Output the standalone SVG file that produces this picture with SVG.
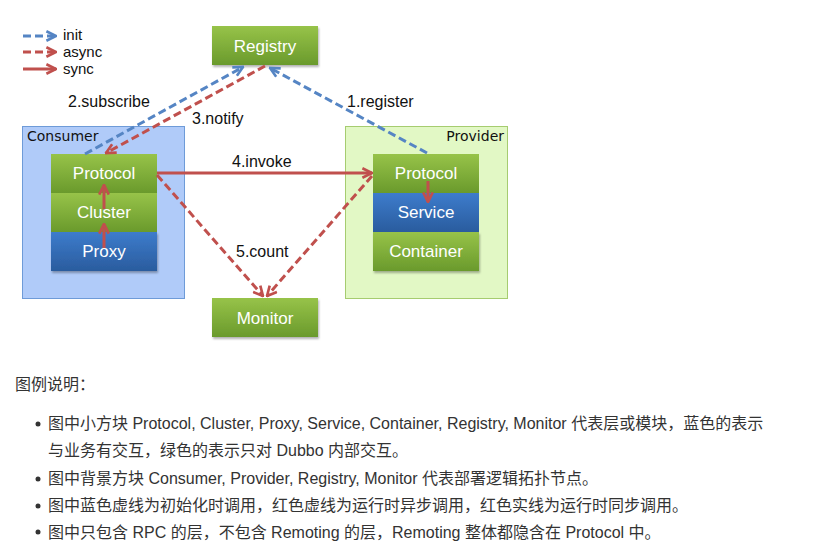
<svg xmlns="http://www.w3.org/2000/svg" width="813" height="559" viewBox="0 0 813 559">
<defs>
<linearGradient id="gG" x1="0" y1="0" x2="0" y2="1"><stop offset="0" stop-color="#97c349"/><stop offset="1" stop-color="#6a9a2c"/></linearGradient>
<linearGradient id="gB" x1="0" y1="0" x2="0" y2="1"><stop offset="0" stop-color="#3d7ccc"/><stop offset="1" stop-color="#2a5c9e"/></linearGradient>
<marker id="ab" viewBox="0 0 10 10" refX="9" refY="5" markerWidth="4" markerHeight="4" orient="auto" markerUnits="strokeWidth"><path d="M1,1 L9,5 L1,9" fill="none" stroke="#5585c4" stroke-width="2.2"/></marker>
<marker id="ar" viewBox="0 0 10 10" refX="9" refY="5" markerWidth="4" markerHeight="4" orient="auto" markerUnits="strokeWidth"><path d="M1,1 L9,5 L1,9" fill="none" stroke="#c0504d" stroke-width="2.2"/></marker>
<filter id="sh" x="-10%" y="-10%" width="130%" height="140%"><feDropShadow dx="1" dy="2" stdDeviation="1.2" flood-color="#000" flood-opacity="0.3"/></filter>
</defs>
<style>
.lbl{font-family:"Liberation Sans",Arial,sans-serif;font-size:16px;fill:#111}
.leg{font-family:"Liberation Sans",Arial,sans-serif;font-size:15px;fill:#111}
.bt{font-family:"Liberation Sans",Arial,sans-serif;font-size:17px;fill:#fff;text-anchor:middle}
.ct{font-family:"DejaVu Sans",sans-serif;font-size:14px;fill:#111}
.g{fill:url(#gG)}
.b{fill:url(#gB)}
.blue{stroke:#5585c4;stroke-width:3;fill:none;stroke-dasharray:8,4}
.reda{stroke:#c0504d;stroke-width:3;fill:none;stroke-dasharray:8,4}
.reds{stroke:#c0504d;stroke-width:3;fill:none}
.txt{font-family:"Liberation Sans","Noto Sans CJK SC",sans-serif;font-size:16px;fill:#333}
</style>
<rect width="813" height="559" fill="#fff"/>
<g id="legend">
<line x1="23" y1="36" x2="56" y2="36" class="blue" marker-end="url(#ab)"/>
<line x1="23" y1="52" x2="56" y2="52" class="reda" marker-end="url(#ar)"/>
<line x1="23" y1="69" x2="56" y2="69" class="reds" marker-end="url(#ar)"/>
<text x="63" y="40" class="leg">init</text>
<text x="63" y="57" class="leg">async</text>
<text x="63" y="74" class="leg">sync</text>
</g>
<g id="consumer">
<rect x="22.5" y="126.5" width="162" height="172" fill="#b0cbf9" stroke="#6e9bd8"/>
<text x="27" y="141" class="ct">Consumer</text>
</g>
<g id="provider">
<rect x="345.5" y="126.5" width="162" height="172" fill="#e2f8c5" stroke="#a6cc70"/>
<text x="504" y="141" class="ct" text-anchor="end">Provider</text>
</g>
<g id="c-protocol"><rect x="51" y="154" width="106" height="39" class="g"/><text x="104" y="179" class="bt">Protocol</text></g>
<g id="c-cluster"><rect x="51" y="193" width="106" height="39" class="g"/><text x="104" y="218" class="bt">Cluster</text></g>
<g id="c-proxy"><rect x="51" y="232" width="106" height="39" class="b" filter="url(#sh)"/><text x="104" y="257" class="bt">Proxy</text></g>
<g id="p-protocol"><rect x="373" y="154" width="106" height="39" class="g"/><text x="426" y="179" class="bt">Protocol</text></g>
<g id="p-service"><rect x="373" y="193" width="106" height="39" class="b"/><text x="426" y="218" class="bt">Service</text></g>
<g id="p-container"><rect x="373" y="232" width="106" height="39" class="g" filter="url(#sh)"/><text x="426" y="257" class="bt">Container</text></g>
<g id="registry"><rect x="212" y="26" width="106" height="39" class="g" filter="url(#sh)"/><text x="265" y="52" class="bt">Registry</text></g>
<g id="monitor"><rect x="212" y="298" width="106" height="39" class="g" filter="url(#sh)"/><text x="265" y="324" class="bt">Monitor</text></g>
<g id="connectors">
<line x1="85" y1="154" x2="243" y2="67" class="blue" marker-end="url(#ab)"/>
<line x1="265" y1="66" x2="106" y2="153" class="reda" marker-end="url(#ar)"/>
<line x1="427" y1="153" x2="270" y2="68" class="blue" marker-end="url(#ab)"/>
<line x1="157" y1="173" x2="372" y2="173" class="reds" marker-end="url(#ar)"/>
<line x1="157" y1="175" x2="263" y2="296" class="reda" marker-end="url(#ar)"/>
<line x1="372" y1="176" x2="267" y2="296" class="reda" marker-end="url(#ar)"/>
<line x1="104" y1="248" x2="104" y2="224" class="reds" marker-end="url(#ar)"/>
<line x1="104" y1="209" x2="104" y2="185" class="reds" marker-end="url(#ar)"/>
<line x1="428" y1="181" x2="428" y2="202" class="reds" marker-end="url(#ar)"/>
</g>
<g id="labels">
<text x="68" y="107" class="lbl">2.subscribe</text>
<text x="192" y="124" class="lbl">3.notify</text>
<text x="347" y="107" class="lbl">1.register</text>
<text x="232" y="167" class="lbl">4.invoke</text>
<text x="236" y="257" class="lbl">5.count</text>
</g>
<g id="notes">
<text x="15" y="390" class="txt">图例说明：</text>
<circle cx="38" cy="424" r="2.5" fill="#333"/>
<circle cx="38" cy="479" r="2.5" fill="#333"/>
<circle cx="38" cy="506" r="2.5" fill="#333"/>
<circle cx="38" cy="532" r="2.5" fill="#333"/>
<text x="48" y="429" class="txt">图中小方块 Protocol, Cluster, Proxy, Service, Container, Registry, Monitor 代表层或模块，蓝色的表示</text>
<text x="48" y="456" class="txt">与业务有交互，绿色的表示只对 Dubbo 内部交互。</text>
<text x="48" y="484" class="txt">图中背景方块 Consumer, Provider, Registry, Monitor 代表部署逻辑拓扑节点。</text>
<text x="48" y="511" class="txt">图中蓝色虚线为初始化时调用，红色虚线为运行时异步调用，红色实线为运行时同步调用。</text>
<text x="48" y="538" class="txt">图中只包含 RPC 的层，不包含 Remoting 的层，Remoting 整体都隐含在 Protocol 中。</text>
</g>
</svg>
